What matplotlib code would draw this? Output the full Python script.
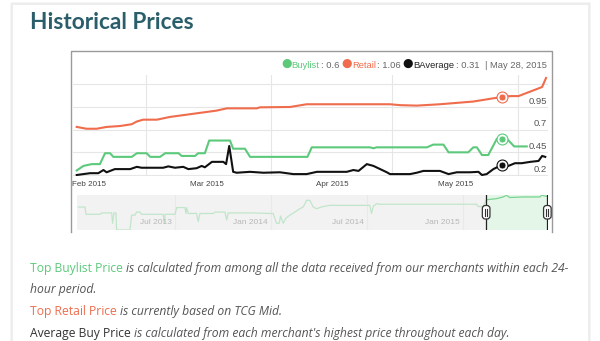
import matplotlib
matplotlib.use('Agg')
import matplotlib.pyplot as plt
from matplotlib.patches import Rectangle, FancyBboxPatch
from matplotlib.lines import Line2D

plt.rcParams['font.family'] = ['Liberation Sans', 'DejaVu Sans']

# Data (x = ordinal position of the point in the zoomed range, Feb 1 -> Jun 1 2015)
retail_x = [0, 2.5, 5.1, 7.6, 11.0, 14.0, 15.3, 16.9, 20.4, 23.7, 25.4, 28.8, 32.2, 35.6, 38.2,
            39.0, 45.8, 46.6, 54.3, 58.5, 79.7, 82.3, 86.5, 92.4, 100.9, 105.2, 108.1, 110.3,
            112.4, 115.4, 118.4, 119.4]
retail_y = [0.73, 0.71, 0.71, 0.73, 0.74, 0.76, 0.79, 0.81, 0.81, 0.84, 0.85, 0.87, 0.89, 0.91, 0.935,
            0.935, 0.935, 0.946, 0.95, 0.98, 0.98, 0.97, 0.965, 0.98, 1.01, 1.04, 1.06, 1.07,
            1.07, 1.12, 1.17, 1.27]

buy_x = [0, 1.7, 3.8, 5.9, 7.2, 8.5, 9.3, 14.0, 15.3, 17.8, 18.7, 21.2, 22.5, 25.9, 26.7, 30.1,
         30.9, 32.6, 33.7, 39.0, 39.8, 42.8, 44.1, 58.7, 59.8, 74.6, 75.5, 76.3, 89.1, 90.7,
         93.3, 94.6, 99.6, 100.9, 101.8, 103.1, 104.7, 106.9, 108.1, 109.4, 111.3, 114.5]
buy_y = [0.25, 0.30, 0.32, 0.32, 0.44, 0.44, 0.40, 0.40, 0.44, 0.44, 0.40, 0.40, 0.44, 0.44, 0.41, 0.41,
         0.44, 0.44, 0.58, 0.58, 0.49, 0.49, 0.40, 0.40, 0.505, 0.505, 0.495, 0.505, 0.505, 0.535,
         0.535, 0.45, 0.45, 0.505, 0.505, 0.42, 0.42, 0.60, 0.60, 0.60, 0.515, 0.515]

avg_x = [0, 1.7, 3.4, 5.5, 6.8, 7.6, 8.5, 9.7, 13.6, 15.3, 16.5, 22.0, 23.3, 25.0, 27.1, 28.4,
         30.5, 31.8, 32.6, 34.4, 37.3, 38.0, 38.8, 39.8, 40.7, 44.1, 47.5, 51.7, 55.1, 58.5,
         61.1, 68.7, 70.4, 71.7, 73.8, 75.5, 78.9, 79.7, 84.8, 86.5, 88.2, 92.4, 94.6, 96.7,
         100.1, 102.2, 103.1, 104.3, 106.0, 108.1, 109.8, 111.5, 113.2, 115.4, 117.5, 118.4, 119.2]
avg_y = [0.20, 0.21, 0.22, 0.22, 0.255, 0.23, 0.245, 0.265, 0.265, 0.29, 0.28, 0.28, 0.295, 0.28, 0.29, 0.265,
         0.275, 0.30, 0.285, 0.345, 0.345, 0.32, 0.52, 0.235, 0.225, 0.235, 0.225, 0.23, 0.21, 0.21,
         0.235, 0.235, 0.255, 0.245, 0.32, 0.30, 0.23, 0.21, 0.21, 0.225, 0.245, 0.245, 0.21, 0.23,
         0.23, 0.235, 0.20, 0.21, 0.265, 0.31, 0.30, 0.33, 0.33, 0.345, 0.355, 0.41, 0.40]

# hovered point (May 28, 2015)
hover_x = 108.1
hover_vals = {'Buylist': 0.6, 'Retail': 1.06, 'BAverage': 0.31}
hover_date = 'May 28, 2015'

month_labels = ['Feb 2015', 'Mar 2015', 'Apr 2015', 'May 2015']
month_label_x = [-1.27, 33.1, 64.9, 96.3]
grid_x = [17.6, 49.4, 80.3, 112.2]
y_ticks = [0.2, 0.45, 0.7, 0.95, 1.2]

# navigator (x = months since Jan 2013)
nav_x = [-0.03, 0.39, 0.45, 1.32, 1.43, 2.05, 2.11, 2.19, 2.32, 2.36, 3.19, 3.30, 3.50, 3.61, 3.82,
         3.92, 5.27, 5.33, 5.39, 6.0, 6.11, 6.62, 6.69, 6.73, 6.83, 7.35, 7.45, 7.56, 8.39, 8.50,
         9.12, 9.23, 9.33, 10.88, 11.93, 12.13, 12.34, 12.51, 12.59, 12.76, 12.92, 13.17, 13.48, 13.80, 14.0,
         14.22, 14.42, 14.63, 14.84, 15.25, 15.67, 18.16, 18.27, 18.37, 18.58, 18.79, 19.52, 24.82, 24.92, 25.23,
         25.44, 26.07, 26.48, 26.69, 26.90, 27.73, 28.77, 28.88, 29.23]
nav_y = [0.41, 0.41, 0.28, 0.28, 0.305, 0.305, 0.12, 0.305, 0.305, 0.0, 0.0, 0.265, 0.265, 0.32, 0.32,
         0.28, 0.28, 0.12, 0.28, 0.28, 0.40, 0.40, 0.295, 0.40, 0.295, 0.295, 0.15, 0.295, 0.295, 0.32,
         0.32, 0.18, 0.305, 0.305, 0.295, 0.295, 0.12, 0.12, 0.25, 0.12, 0.21, 0.265, 0.32, 0.38, 0.41,
         0.53, 0.53, 0.41, 0.38, 0.42, 0.44, 0.44, 0.295, 0.42, 0.47, 0.46, 0.46, 0.46, 0.42, 0.42,
         0.54, 0.56, 0.59, 0.62, 0.58, 0.59, 0.59, 0.62, 0.60]
nav_labels = ['Jul 2013', 'Jan 2014', 'Jul 2014', 'Jan 2015']
nav_label_x = [6, 12, 18, 24]
nav_sel = (25.42, 29.24)

GREEN = '#5cc97b'
RED = '#ef6c4c'
BLACK = '#111111'
GRAY = '#666666'

fig = plt.figure(figsize=(6, 3.41), dpi=100)

# page background in pixel coords
bg = fig.add_axes([0, 0, 1, 1])
bg.set_xlim(0, 600)
bg.set_ylim(341, 0)
bg.axis('off')

# card shadow
for i, c in enumerate(['#f4f4f4', '#ebebeb']):
    bg.add_patch(Rectangle((11 + i, 3 + i), 579 - 2 * i, 400, fill=False, edgecolor=c, lw=1.2))

bg.text(30, 29.3, 'Historical Prices', family='Lato', fontweight='bold', fontsize=16.3,
        color='#2a5e6b', va='baseline')

# chart border (left, top, right)
bg.plot([70.5, 70.5, 552, 552], [232, 50.5, 50.5, 232], color='#9a9a9a', lw=1)

# main chart
ax = fig.add_axes([73.3 / 600, 1 - 176 / 341, (548 - 73.3) / 600, 101 / 341])
ax.set_xlim(-0.87, 119.9)
ax.set_ylim(0.189, 1.3025)
for s in ax.spines.values():
    s.set_visible(False)
ax.set_yticks(y_ticks)
ax.set_xticks(grid_x)
ax.tick_params(length=0, labelleft=False, labelbottom=False)
ax.grid(True, color='#e6e6e6', lw=0.8)
ax.set_axisbelow(True)

ax.plot(retail_x, retail_y, color=RED, lw=1.5, solid_joinstyle='round')
ax.plot(buy_x, buy_y, color=GREEN, lw=1.5, solid_joinstyle='round')
ax.plot(avg_x, avg_y, color=BLACK, lw=1.5, solid_joinstyle='round')

for name, col in [('Retail', RED), ('Buylist', GREEN), ('BAverage', BLACK)]:
    ax.scatter([hover_x], [hover_vals[name]], s=62, facecolor='white', edgecolor=col, lw=0.8, zorder=5)
    ax.scatter([hover_x], [hover_vals[name]], s=24, facecolor=col, edgecolor='white', lw=0.4, zorder=6)

ytr = ax.get_yaxis_transform()
for v in y_ticks[:-1]:
    ax.text(0.9973, v + 0.036, f'{v:g}', transform=ytr, ha='right', va='baseline',
            fontsize=6.8, color='#555555')

xtr = ax.get_xaxis_transform()
for lab, x in zip(month_labels, month_label_x):
    ax.text(x, -0.089, lab, transform=xtr, ha='left' if x < 0 else 'center', va='center',
            fontsize=5.8, color='#444444', clip_on=False)

# hover legend line
def chain(axis, x, y, parts, size):
    t = axis.text(x, y, parts[0][0], color=parts[0][1], fontsize=size + 2.0, family='DejaVu Sans',
                  va='baseline')
    for s, c, gap in parts[1:]:
        kw = dict(family='DejaVu Sans', fontsize=size + 2.0) if s == '●' else dict(fontsize=size)
        t = axis.annotate(s, xy=(1, 0), xycoords=t, xytext=(gap, 0), textcoords='offset points',
                          color=c, va='bottom', ha='left', **kw)
    return t

legend_parts = [('●', GREEN), ('Buylist', GREEN, 0.0), (f": {hover_vals['Buylist']:g}", GRAY, 1.0),
                ('●', RED, 1.4), ('Retail', RED, 0.0), (f": {hover_vals['Retail']:g}", GRAY, 1.0),
                ('●', BLACK, 1.4), ('BAverage', '#222222', 0.0), (f": {hover_vals['BAverage']:g}", GRAY, 1.0),
                ('|', GRAY, 3.2), (hover_date, GRAY, 2.6)]
chain(bg, 281, 67.3, legend_parts, 6.75)

# navigator
nav = fig.add_axes([76.7 / 600, 1 - 230 / 341, (548 - 76.7) / 600, 35 / 341])
nav.set_facecolor('#f2f2f2')
nav.set_xlim(-0.13, 29.28)
nav.set_ylim(0, 0.625)
for s in nav.spines.values():
    s.set_visible(False)
nav.set_xticks(nav_label_x)
nav.set_yticks([])
nav.tick_params(length=0, labelbottom=False)
nav.grid(True, axis='x', color='#dedede', lw=0.8)
nav.set_axisbelow(True)
nav.axvspan(nav_sel[0], nav_sel[1], color='#e4f6e8', zorder=1, lw=0)
nav.plot(nav_x, nav_y, color='#79d48f', lw=0.9, zorder=2)
nav.axvspan(-0.13, nav_sel[0], color='#f2f2f2', alpha=0.6, zorder=3, lw=0)
ntr = nav.get_xaxis_transform()
for lab, x in zip(nav_labels, nav_label_x):
    nav.text(x - 0.2, 0.2, lab, transform=ntr, ha='right', va='center', fontsize=6, color='#b8b8b8', zorder=4)
for x in nav_sel:
    nav.axvline(x, color='#222222', lw=0.9, zorder=5)

# navigator handles drawn on an overlay in pixel coords
top = fig.add_axes([0, 0, 1, 1], zorder=10)
top.set_xlim(0, 600)
top.set_ylim(341, 0)
top.axis('off')
top.patch.set_alpha(0)
for x in nav_sel:
    px = nav.transData.transform((x, 0))[0]
    top.add_patch(FancyBboxPatch((px - 3.8, 205.5), 7.6, 13.5, boxstyle='round,pad=0,rounding_size=3',
                                 fc='white', ec='#333333', lw=0.9))
    for dx in (-1.1, 1.1):
        top.add_line(Line2D([px + dx, px + dx], [209, 215.5], color='#333333', lw=0.8))

# description text
BODY = 'Open Sans'
lines = [
    (272, [('Top Buylist Price', GREEN, 'normal'),
           ('is calculated from among all the data received from our merchants within each 24-', '#555555', 'italic')]),
    (293.5, [('hour period.', '#555555', 'italic')]),
    (315, [('Top Retail Price', RED, 'normal'), ('is currently based on TCG Mid.', '#555555', 'italic')]),
    (336.5, [('Average Buy Price', '#333333', 'normal'),
             ("is calculated from each merchant's highest price throughout each day.", '#555555', 'italic')]),
]
for y, parts in lines:
    t = bg.text(30, y, parts[0][0], color=parts[0][1], style=parts[0][2], family=BODY,
                fontsize=8.7, va='baseline')
    for s, c, st in parts[1:]:
        t = bg.annotate(s, xy=(1, 0), xycoords=t, xytext=(2.4, 0), textcoords='offset points',
                        color=c, style=st, family=BODY, fontsize=8.7, va='bottom', ha='left')

fig.savefig('out.png', dpi=100)
